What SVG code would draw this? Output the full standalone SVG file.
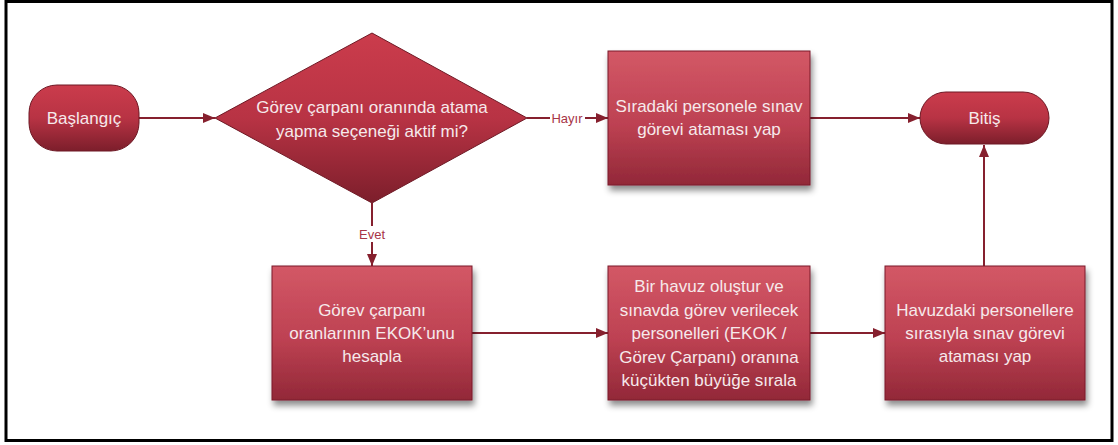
<svg xmlns="http://www.w3.org/2000/svg" width="1118" height="445" viewBox="0 0 1118 445">
  <defs>
    <linearGradient id="gBox" x1="0" y1="0" x2="0" y2="1">
      <stop offset="0" stop-color="#d35866"/>
      <stop offset="0.55" stop-color="#bd4152"/>
      <stop offset="1" stop-color="#922838"/>
    </linearGradient>
    <linearGradient id="gTerm" x1="0" y1="0" x2="0" y2="1">
      <stop offset="0" stop-color="#cb3c4c"/>
      <stop offset="0.5" stop-color="#b83344"/>
      <stop offset="1" stop-color="#7c1e2b"/>
    </linearGradient>
    <filter id="shadow" x="-10%" y="-10%" width="125%" height="130%">
      <feDropShadow dx="2" dy="5" stdDeviation="3" flood-color="#000" flood-opacity="0.45"/>
    </filter>
    <marker id="arrow" viewBox="0 0 12 10" refX="12" refY="5" markerWidth="12" markerHeight="10" markerUnits="userSpaceOnUse" orient="auto">
      <path d="M0,0 L12,5 L0,10 Z" fill="#86202e"/>
    </marker>
  </defs>
  <style>
    .frame { fill: #ffffff; stroke: #000000; stroke-width: 3; }
    .box { fill: url(#gBox); stroke: #7a1b28; stroke-width: 1; filter: url(#shadow); }
    .term { fill: url(#gTerm); stroke: #6e1824; stroke-width: 1; }
    .txt { font-family: "Liberation Sans", Arial, sans-serif; font-size: 17px; fill: #f6e9eb; text-anchor: middle; }
    .conn { fill: none; stroke: #86202e; stroke-width: 2; marker-end: url(#arrow); }
    .lbl { font-family: "Liberation Sans", Arial, sans-serif; font-size: 13px; fill: #a83547; text-anchor: middle; }
  </style>

  <rect class="frame" x="6" y="1.5" width="1106" height="439"/>

  <g id="connectors">
    <line class="conn" x1="139" y1="118" x2="215" y2="118"/>
    <line class="conn" x1="527" y1="118" x2="608" y2="118"/>
    <rect x="550" y="110" width="35" height="16" fill="#ffffff"/>
    <text class="lbl" x="567" y="123">Hayır</text>
    <line class="conn" x1="810" y1="118" x2="920" y2="118"/>
    <line class="conn" x1="372" y1="203" x2="372" y2="266"/>
    <rect x="357" y="226" width="30" height="16" fill="#ffffff"/>
    <text class="lbl" x="372" y="239">Evet</text>
    <line class="conn" x1="472" y1="333" x2="608" y2="333"/>
    <line class="conn" x1="810" y1="333" x2="885" y2="333"/>
    <line class="conn" x1="984" y1="266" x2="984" y2="145"/>
  </g>

  <g id="start">
    <rect class="term" x="29" y="85" width="110" height="66" rx="28" ry="28"/>
    <text class="txt" x="84" y="124">Başlangıç</text>
  </g>

  <g id="decision">
    <polygon class="term" points="215,118 372,33 527,118 372,203"/>
    <text class="txt" x="372" y="113">Görev çarpanı oranında atama</text>
    <text class="txt" x="372" y="137">yapma seçeneği aktif mi?</text>
  </g>

  <g id="assign-next">
    <rect class="box" x="608" y="51" width="202" height="134"/>
    <text class="txt" x="709" y="112">Sıradaki personele sınav</text>
    <text class="txt" x="709" y="135">görevi ataması yap</text>
  </g>

  <g id="end">
    <rect class="term" x="920" y="92" width="129" height="52" rx="26" ry="26"/>
    <text class="txt" x="984.5" y="124">Bitiş</text>
  </g>

  <g id="ekok">
    <rect class="box" x="272" y="266" width="200" height="134"/>
    <text class="txt" x="372" y="316">Görev çarpanı</text>
    <text class="txt" x="372" y="339">oranlarının EKOK’unu</text>
    <text class="txt" x="372" y="362">hesapla</text>
  </g>

  <g id="pool">
    <rect class="box" x="608" y="266" width="202" height="134"/>
    <text class="txt" x="709" y="292">Bir havuz oluştur ve</text>
    <text class="txt" x="709" y="316">sınavda görev verilecek</text>
    <text class="txt" x="709" y="339">personelleri (EKOK /</text>
    <text class="txt" x="709" y="363">Görev Çarpanı) oranına</text>
    <text class="txt" x="709" y="386">küçükten büyüğe sırala</text>
  </g>

  <g id="assign-pool">
    <rect class="box" x="885" y="266" width="200" height="134"/>
    <text class="txt" x="985" y="316">Havuzdaki personellere</text>
    <text class="txt" x="985" y="339">sırasıyla sınav görevi</text>
    <text class="txt" x="985" y="362">ataması yap</text>
  </g>
</svg>
